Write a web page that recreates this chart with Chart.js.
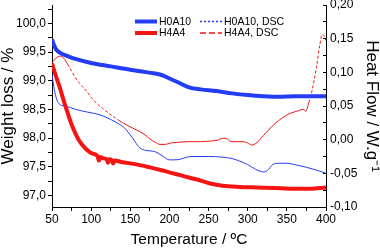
<!DOCTYPE html>
<html>
<head>
<meta charset="utf-8">
<script src="https://cdn.jsdelivr.net/npm/chart.js@4.4.0/dist/chart.umd.min.js"></script>
<style>
  html, body { margin: 0; padding: 0; background: #fff; }
  #tgaChart { display: block; }
</style>
</head>
<body>
<canvas id="tgaChart" width="380" height="251"></canvas>
<script>
// TGA curves (left axis, weight %)
const h0a10Temp = [50, 52, 55, 60, 70, 80, 100, 125, 150, 165, 180, 190, 200, 213, 226, 240, 260, 280, 300, 320, 340, 360, 380, 400];
const h0a10Weight = [99.72, 99.64, 99.55, 99.49, 99.43, 99.38, 99.31, 99.25, 99.19, 99.16, 99.13, 99.10, 99.04, 98.96, 98.88, 98.85, 98.82, 98.78, 98.75, 98.73, 98.72, 98.73, 98.73, 98.73];

const h4a4Temp = [50, 55, 60, 65, 70, 75, 80, 85, 90, 100, 108, 110, 112, 115, 120, 121.5, 123, 126, 128, 130, 140, 150, 162, 175, 190, 201, 215, 226, 240, 252, 268, 290, 312, 335, 354, 380, 400];
const h4a4Weight = [99.30, 99.08, 98.88, 98.65, 98.44, 98.24, 98.08, 97.95, 97.86, 97.74, 97.69, 97.61, 97.67, 97.65, 97.63, 97.57, 97.63, 97.62, 97.56, 97.61, 97.58, 97.56, 97.53, 97.49, 97.44, 97.40, 97.35, 97.31, 97.26, 97.21, 97.17, 97.15, 97.14, 97.13, 97.12, 97.12, 97.14];

// DSC curves (right axis, W/g)
const h0a10DscTemp = [50, 53, 56, 58, 62, 67, 80, 95, 111, 125, 133, 142, 150, 156, 162, 170, 178, 184, 192, 200, 207, 214, 222, 230, 250, 268, 280, 290, 300, 310, 316, 320, 325, 332, 340, 350, 360, 375, 390, 400];
const h0a10DscFlow = [0.097, 0.074, 0.060, 0.055, 0.051, 0.050, 0.045, 0.041, 0.037, 0.030, 0.025, 0.018, 0.007, -0.003, -0.012, -0.016, -0.017, -0.019, -0.025, -0.030, -0.030, -0.029, -0.026, -0.025, -0.025, -0.026, -0.028, -0.032, -0.037, -0.044, -0.047, -0.048, -0.046, -0.037, -0.035, -0.035, -0.037, -0.041, -0.046, -0.050];

const h4a4DscTemp = [50, 55, 60, 65, 70, 75, 81, 88, 94, 100, 107, 115, 124, 135, 145, 155, 162, 170, 175, 182, 188, 195, 201, 210, 225, 240, 252, 261, 268, 272, 277, 285, 294, 300, 305, 312, 320, 333, 345, 354, 365, 371, 374, 378, 382, 388, 392, 395, 397, 400];
const h4a4DscFlow = [0.114, 0.121, 0.124, 0.121, 0.112, 0.102, 0.090, 0.080, 0.072, 0.063, 0.054, 0.046, 0.038, 0.029, 0.022, 0.016, 0.012, 0.006, 0.001, -0.004, -0.007, -0.007, -0.005, -0.004, -0.003, -0.003, -0.002, -0.001, 0.002, 0.002, -0.002, -0.003, -0.003, -0.005, -0.008, -0.004, 0.006, 0.022, 0.033, 0.039, 0.043, 0.045, 0.042, 0.055, 0.072, 0.109, 0.140, 0.156, 0.155, 0.147];

// axis ticks (minor ticks get no label)
const tempTicks = [50, 75, 100, 125, 150, 175, 200, 225, 250, 275, 300, 325, 350, 375, 400];
const weightTicks = [97, 97.25, 97.5, 97.75, 98, 98.25, 98.5, 98.75, 99, 99.25, 99.5, 99.75, 100, 100.25];
const heatTicks = [-0.1, -0.075, -0.05, -0.025, 0, 0.025, 0.05, 0.075, 0.1, 0.125, 0.15, 0.175, 0.2];

const BLUE = 'rgb(35, 60, 245)';
const RED = 'rgb(245, 20, 20)';

const toPoints = (xs, ys) => xs.map((x, i) => ({ x: x, y: ys[i] }));
const comma = (v, d) => v.toFixed(d).replace('.', ',');
const isMajor = (v, step) => Math.abs(v / step - Math.round(v / step)) < 1e-6;

Chart.defaults.font.family = '"Liberation Sans", Arial, sans-serif';
Chart.defaults.color = '#000';

// legend in two columns inside the plot
const cornerLegend = {
  id: 'cornerLegend',
  afterDatasetsDraw(chart) {
    const ctx = chart.ctx;
    const items = [
      { ds: 0, x: 135, y: 21.5, width: 4, dash: [] },
      { ds: 1, x: 135, y: 33, width: 4, dash: [] },
      { ds: 2, x: 200, y: 21.5, width: 1.5, dash: [2, 2] },
      { ds: 3, x: 200, y: 33, width: 1.5, dash: [6, 3] }
    ];
    ctx.save();
    ctx.font = '10.5px "Liberation Sans", Arial, sans-serif';
    ctx.textBaseline = 'middle';
    items.forEach(it => {
      const ds = chart.data.datasets[it.ds];
      ctx.strokeStyle = ds.borderColor;
      ctx.lineWidth = it.width;
      ctx.setLineDash(it.dash);
      ctx.beginPath();
      ctx.moveTo(it.x, it.y);
      ctx.lineTo(it.x + 22, it.y);
      ctx.stroke();
      ctx.fillStyle = '#000';
      ctx.fillText(ds.label, it.x + 24, it.y + 0.5);
    });
    ctx.restore();
  }
};

new Chart(document.getElementById('tgaChart'), {
  type: 'line',
  data: {
    datasets: [
      { label: 'H0A10', data: toPoints(h0a10Temp, h0a10Weight), yAxisID: 'y', borderColor: BLUE, borderWidth: 4 },
      { label: 'H4A4', data: toPoints(h4a4Temp, h4a4Weight), yAxisID: 'y', borderColor: RED, borderWidth: 4 },
      { label: 'H0A10, DSC', data: toPoints(h0a10DscTemp, h0a10DscFlow), yAxisID: 'y2', borderColor: BLUE, borderWidth: 1 },
      {
        label: 'H4A4, DSC', data: toPoints(h4a4DscTemp, h4a4DscFlow), yAxisID: 'y2', borderColor: RED, borderWidth: 1,
        segment: {
          borderDash: c => {
            const t = c.p0.parsed.x;
            return (t >= 68 && t < 130) || t >= 375 ? [3, 2] : undefined;
          }
        }
      }
    ]
  },
  options: {
    responsive: false,
    animation: false,
    layout: { padding: { top: 5 } },
    elements: {
      point: { radius: 0 },
      line: { cubicInterpolationMode: 'monotone', fill: false }
    },
    plugins: { legend: { display: false }, tooltip: { enabled: false } },
    scales: {
      x: {
        type: 'linear', position: 'bottom', min: 50, max: 400,
        afterBuildTicks: s => { s.ticks = tempTicks.map(v => ({ value: v })); },
        afterFit: s => { s.height = 44; },
        grid: { drawOnChartArea: false, tickLength: 4, color: '#000' },
        border: { color: '#000', width: 1 },
        ticks: { autoSkip: false, maxRotation: 0, padding: 1, font: { size: 12 },
          callback: v => isMajor(v, 50) ? String(v) : '' },
        title: { display: true, text: 'Temperature / ºC', font: { size: 15.5, lineHeight: 1 }, padding: { top: 4, bottom: 4 } }
      },
      y: {
        type: 'linear', position: 'left', min: 96.8, max: 100.32,
        afterBuildTicks: s => { s.ticks = weightTicks.map(v => ({ value: v })); },
        afterFit: s => { s.width = 52; s.paddingTop = 0; s.paddingBottom = 0; },
        grid: { drawOnChartArea: false, tickLength: 4, color: '#000' },
        border: { color: '#000', width: 1 },
        ticks: { autoSkip: false, padding: 2, font: { size: 12 },
          callback: v => isMajor(v, 0.5) ? comma(v, 1) : '' },
        title: { display: true, text: 'Weight loss / %', font: { size: 17, lineHeight: 1 }, padding: 0 }
      },
      y2: {
        type: 'linear', position: 'right', min: -0.1, max: 0.2,
        afterBuildTicks: s => { s.ticks = heatTicks.map(v => ({ value: v })); },
        afterFit: s => { s.width = 54; s.paddingTop = 0; s.paddingBottom = 0; },
        grid: { drawOnChartArea: false, tickLength: -3, color: '#000' },
        border: { color: '#000', width: 1 },
        ticks: { autoSkip: false, padding: 7, font: { size: 12 },
          callback: v => isMajor(v, 0.05) ? comma(v, 2) : '' },
        title: { display: true, text: 'Heat Flow / W.g⁻¹', font: { size: 17, lineHeight: 1 }, padding: 0 }
      }
    }
  },
  plugins: [cornerLegend]
});
</script>
</body>
</html>
